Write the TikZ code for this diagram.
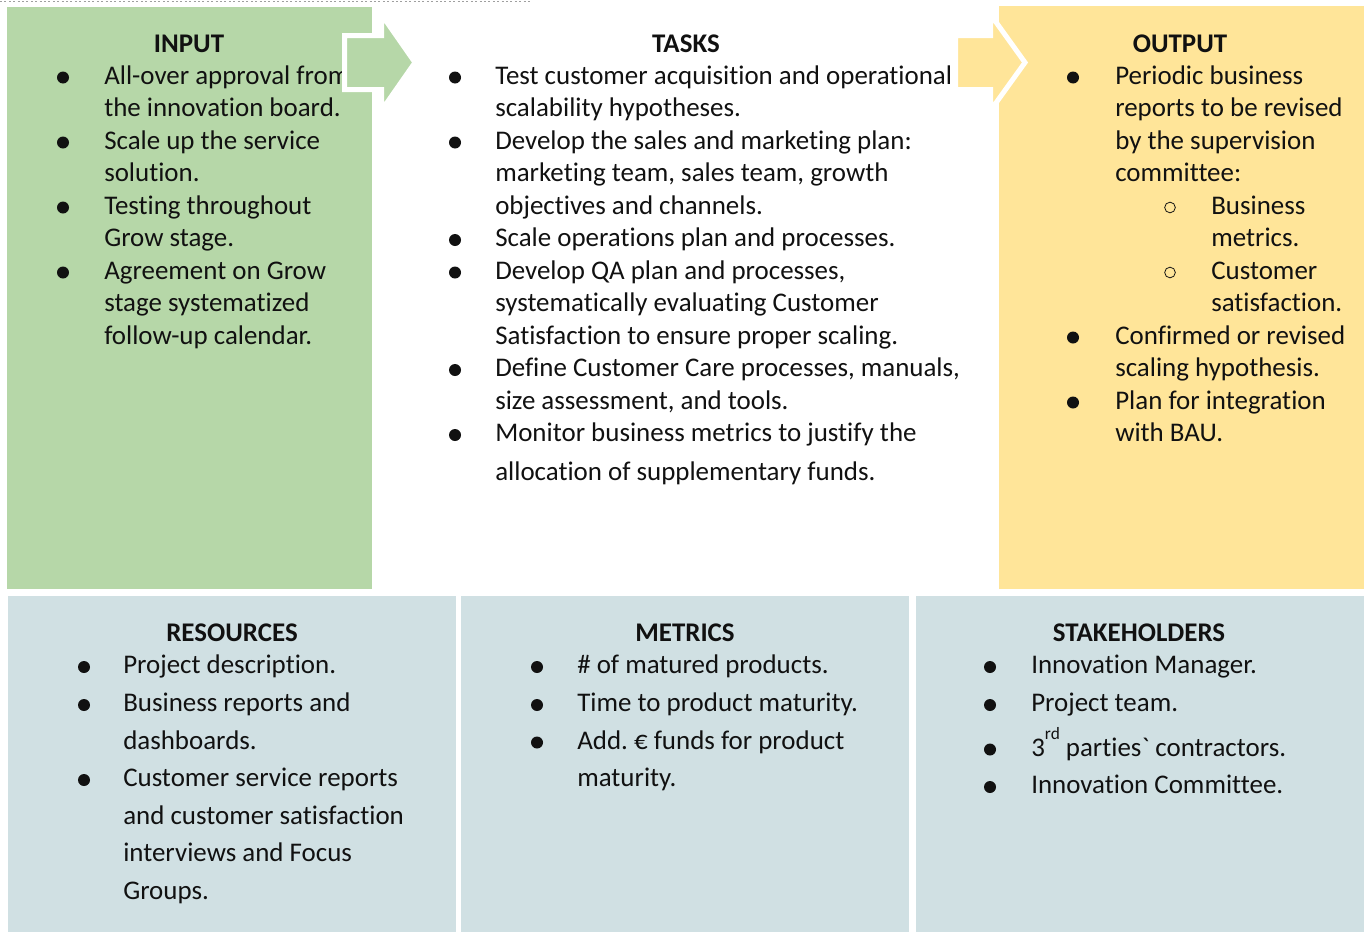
\documentclass[tikz,border=0pt]{standalone}
\usepackage{fontspec}
\setmainfont{Carlito}[Ligatures={TeXOff,CommonOff}]
\definecolor{inputgreen}{HTML}{B6D7A8}
\definecolor{outputyellow}{HTML}{FFE599}
\definecolor{infoblue}{HTML}{D0E0E3}
\definecolor{textink}{HTML}{111111}
\frenchspacing

\begin{document}
\begin{tikzpicture}[
  x=0.75pt,
  y=-0.75pt,
  every node/.style={font=\fontsize{20.2}{24}\selectfont, text=textink, inner sep=0pt},
  head/.style={anchor=base, font=\fontsize{20.2}{24}\selectfont\bfseries},
  item/.style={anchor=base west},
  dot/.style={circle, fill=textink, minimum size=9pt},
  ring/.style={circle, draw=textink, line width=0.6pt, minimum size=8pt},
  flow/.style={draw=white, line width=3.75pt, line join=miter},
  topline/.style={draw=gray!75, line width=0.75pt, dash pattern=on 1.5pt off 1.8pt}
]
  \useasboundingbox (0,0) rectangle (1367,932);

  % ---- dotted rule along the top -------------------------------------
  \draw[topline] (0,1) -- (530,1);

  % ---- coloured panels ----------------------------------------------
  \fill[inputgreen]   (7,7)     rectangle (372,589);
  \fill[outputyellow] (999,6)   rectangle (1364,589);
  \fill[infoblue]     (8,596)   rectangle (456,932);
  \fill[infoblue]     (461,596) rectangle (909,932);
  \fill[infoblue]     (916,596) rectangle (1364,932);

  % ---- headings -----------------------------------------------------
  \node[head] (input)   at (189,52.5)   {INPUT};
  \node[head] (tasks)   at (686,52.5)   {TASKS};
  \node[head] (output)  at (1180,52.5)  {OUTPUT};
  \node[head] (res)     at (232,641.5)  {RESOURCES};
  \node[head] (metrics) at (685,641.5)  {METRICS};
  \node[head] (stake)   at (1139,641.5) {STAKEHOLDERS};

  % ---- input --------------------------------------------------------
  \foreach \yl/\txt [count=\k] in {
      84/All-over approval from, 116.5/the innovation board.,
      149/Scale up the service, 181.5/solution.,
      214/Testing throughout, 246.5/Grow stage.,
      279/Agreement on Grow, 311.5/stage systematized,
      344/follow-up calendar.}
    \node[item] (in-\k) at (104,\yl) {\txt};
  \foreach \yl [count=\k] in {84,149,214,279}
    \node[dot] (in-b\k) at (63,\yl-6.5) {};

  % ---- tasks --------------------------------------------------------
  \foreach \yl/\txt [count=\k] in {
      84/Test customer acquisition and operational,
      116.5/scalability hypotheses.,
      149/Develop the sales and marketing plan:,
      181.5/{marketing team, sales team, growth},
      214/objectives and channels.,
      246.5/Scale operations plan and processes.,
      279/{Develop QA plan and processes,},
      311.5/systematically evaluating Customer,
      344/Satisfaction to ensure proper scaling.,
      376.5/{Define Customer Care processes, manuals,},
      409/{size assessment, and tools.},
      441.5/Monitor business metrics to justify the,
      480/allocation of supplementary funds.}
    \node[item] (task-\k) at (495,\yl) {\txt};
  \foreach \yl [count=\k] in {84,149,246.5,279,376.5,441.5}
    \node[dot] (task-b\k) at (455,\yl-6.5) {};

  % ---- output -------------------------------------------------------
  \foreach \xx/\yl/\txt [count=\k] in {
      1115/84/Periodic business, 1115/116.5/reports to be revised,
      1115/149/by the supervision, 1115/181.5/committee:,
      1211/214/Business, 1211/246.5/metrics.,
      1211/279/Customer, 1211/311.5/satisfaction.,
      1115/344/Confirmed or revised, 1115/376.5/scaling hypothesis.,
      1115/409/Plan for integration, 1115/441.5/with BAU.}
    \node[item] (out-\k) at (\xx,\yl) {\txt};
  \foreach \yl [count=\k] in {84,344,409}
    \node[dot] (out-b\k) at (1073,\yl-6.5) {};
  \foreach \yl [count=\k] in {214,279}
    \node[ring] (out-r\k) at (1170,\yl-6.5) {};

  % ---- resources ----------------------------------------------------
  \foreach \yl/\txt [count=\k] in {
      673.5/Project description., 711.5/Business reports and,
      749/dashboards., 786.5/Customer service reports,
      824/and customer satisfaction, 861.5/interviews and Focus,
      899/Groups.}
    \node[item] (res-\k) at (123,\yl) {\txt};
  \foreach \yl [count=\k] in {673.5,711.5,786.5}
    \node[dot] (res-b\k) at (84,\yl-6.5) {};

  % ---- metrics ------------------------------------------------------
  \foreach \yl/\txt [count=\k] in {
      673.5/\# of matured products., 711.5/Time to product maturity.,
      749/Add. € funds for product, 786.5/maturity.}
    \node[item] (met-\k) at (577,\yl) {\txt};
  \foreach \yl [count=\k] in {673.5,711.5,749}
    \node[dot] (met-b\k) at (537,\yl-6.5) {};

  % ---- stakeholders -------------------------------------------------
  \foreach \yl/\txt [count=\k] in {
      673.5/Innovation Manager., 711.5/Project team.,
      756/3\raisebox{0.62em}{\fontsize{13}{13}\selectfont rd} parties` contractors.,
      793.5/Innovation Committee.}
    \node[item] (stk-\k) at (1031,\yl) {\txt};
  \foreach \yl [count=\k] in {673.5,711.5,756,793.5}
    \node[dot] (stk-b\k) at (990,\yl-6.5) {};

  % ---- block arrows between the panels -------------------------------
  \filldraw[flow, fill=inputgreen]
    (344.5,35.5) -- (381.5,35.5) -- (381.5,14.5) -- (415,62.5)
    -- (381.5,110.5) -- (381.5,89.5) -- (344.5,89.5) -- cycle;
  \filldraw[flow, fill=outputyellow]
    (955.5,35.5) -- (990.5,35.5) -- (990.5,14.5) -- (1025,62.5)
    -- (990.5,110.5) -- (990.5,89.5) -- (955.5,89.5) -- cycle;
\end{tikzpicture}
\end{document}
